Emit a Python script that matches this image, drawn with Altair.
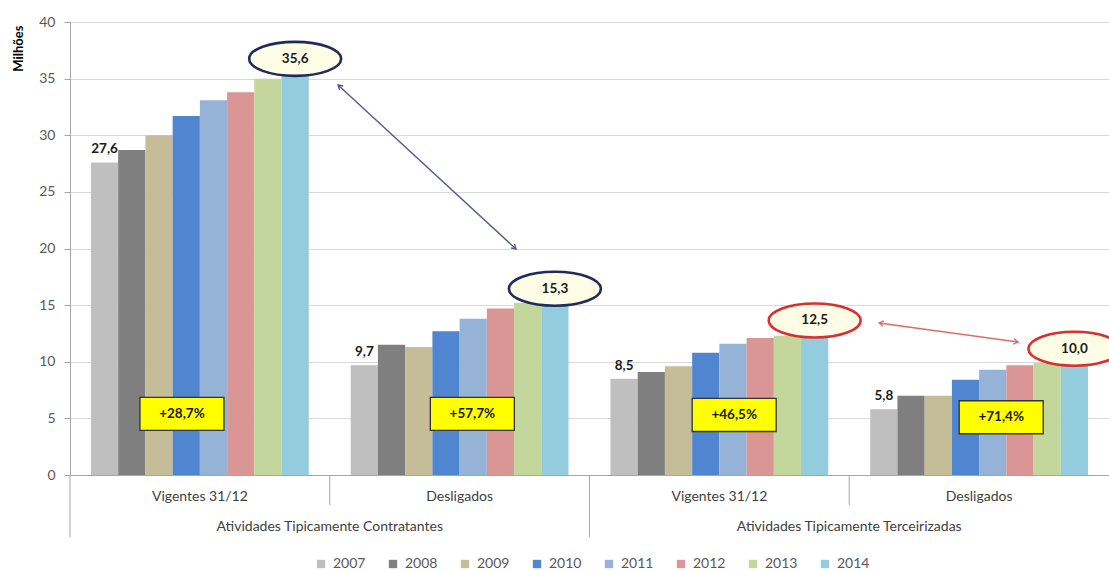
import math
import altair as alt
import pandas as pd

# ---- data -------------------------------------------------------------
anos = ["2007", "2008", "2009", "2010", "2011", "2012", "2013", "2014"]
cores = ["#BFBFBF", "#7F7F7F", "#C4BD97", "#4F86CF",
         "#95B3D7", "#DA9694", "#C3D69B", "#93CDDD"]

# "super|inner" keys keep the repeated inner names unique
grupos = ["C|Vigentes 31/12", "C|Desligados", "T|Vigentes 31/12", "T|Desligados"]
supergrupos = ["Atividades Tipicamente Contratantes",
               "Atividades Tipicamente Terceirizadas"]

vig_contratantes = [27.6, 28.7, 30.0, 31.7, 33.1, 33.8, 35.0, 35.6]
desl_contratantes = [9.7, 11.5, 11.3, 12.7, 13.8, 14.7, 15.2, 15.3]
vig_terceirizadas = [8.5, 9.1, 9.6, 10.8, 11.6, 12.1, 12.3, 12.5]
desl_terceirizadas = [5.8, 7.0, 7.0, 8.4, 9.3, 9.7, 9.9, 10.0]

variacao = [28.7, 57.7, 46.5, 71.4]          # % change 2007 -> 2014

# annotation anchors (x in group units 0..4, y in millions)
caixa_x = [0.431, 1.549, 2.557, 3.585]
caixa_y = [5.4, 5.4, 5.3, 5.1]
seta_azul = (1.032, 34.44, 1.717, 19.96)
seta_vermelha = (3.115, 13.42, 3.650, 11.74)

# ---- layout -----------------------------------------------------------
W, H = 1039, 453
Y_MAX = 40
FONT = "Lato"

series = [vig_contratantes, desl_contratantes, vig_terceirizadas, desl_terceirizadas]
supers = [supergrupos[0], supergrupos[0], supergrupos[1], supergrupos[1]]
rows = []
for g, s, vals in zip(grupos, supers, series):
    for a, v in zip(anos, vals):
        rows.append({"grupo": g, "super": s, "ano": a, "valor": v})
df = pd.DataFrame(rows)

x_scale = alt.Scale(domain=grupos, paddingInner=0, paddingOuter=0)
x_axis = alt.Axis(title=None, labelExpr="split(datum.label, '|')[1]", labelAngle=0,
                  ticks=False, tickSize=0, labelPadding=14, labelFont=FONT,
                  labelFontSize=14, labelColor="#404040", domainColor="#A6A6A6",
                  grid=False)


def xg(**kw):
    return alt.X("grupo:N", scale=x_scale, axis=x_axis, **kw)


xo = alt.XOffset("ano:N", scale=alt.Scale(domain=anos, paddingInner=0, paddingOuter=0.77))

y_scale = alt.Scale(domain=[0, Y_MAX], nice=False)
y_axis = alt.Axis(values=list(range(0, 41, 5)), title="Milhões", titleAngle=-90,
                  titleX=-52, titleY=3, titleAlign="right", titleBaseline="middle",
                  titleFont=FONT, titleFontSize=13, titleFontWeight="bold",
                  titleColor="#000000", labelFont=FONT, labelFontSize=14,
                  labelColor="#595959", labelPadding=9, tickSize=6,
                  tickColor="#A6A6A6", domainColor="#A6A6A6", gridColor="#D9D9D9")


def yq(field):
    return alt.Y(f"{field}:Q", scale=y_scale, axis=y_axis)


base = alt.Chart(df)

bars = base.mark_bar().encode(
    x=xg(),
    xOffset=xo,
    y=yq("valor"),
    color=alt.Color("ano:N", scale=alt.Scale(domain=anos, range=cores),
                    legend=alt.Legend(orient="none", legendX=244, legendY=535,
                                      direction="horizontal", title=None,
                                      symbolType="square", symbolSize=70,
                                      symbolStrokeWidth=0, labelFont=FONT,
                                      labelFontSize=14, labelColor="#595959",
                                      columnPadding=20, labelOffset=5)),
)

# ellipse outline around the 2014 value
def elipse(cy, ry, k=0.5523):
    f = lambda v: f"{v:.3f}"
    return (f"M1,{f(cy)} C1,{f(cy + k * ry)} {f(k)},{f(cy + ry)} 0,{f(cy + ry)} "
            f"C{f(-k)},{f(cy + ry)} -1,{f(cy + k * ry)} -1,{f(cy)} "
            f"C-1,{f(cy - k * ry)} {f(-k)},{f(cy - ry)} 0,{f(cy - ry)} "
            f"C{f(k)},{f(cy - ry)} 1,{f(cy - k * ry)} 1,{f(cy)} Z")


ellipses = base.transform_filter("datum.ano == '2014'").mark_point(
    shape=elipse(-13 / 46, 17 / 46), size=92 * 92, filled=True,
    fill="#FFFDE6", strokeWidth=2.6, opacity=1,
).encode(
    x=xg(), xOffset=xo, y=yq("valor"),
    stroke=alt.Stroke("super:N", scale=alt.Scale(domain=supergrupos,
                                                 range=["#1F2B5B", "#D9302F"]),
                      legend=None),
)

value_labels = base.transform_filter(
    "datum.ano == '2007' || datum.ano == '2014'"
).transform_calculate(
    rotulo="replace(format(datum.valor, '.1f'), '.', ',')"
).mark_text(dy=-13, baseline="middle", font=FONT, fontSize=13.5,
            fontWeight="bold", color="#1A1A1A").encode(
    x=xg(), xOffset=xo, y=yq("valor"), text="rotulo:N",
)

# category separators under the x axis
sep_df = pd.DataFrame({"grupo": grupos, "longo": [True, False, True, False]})
sep_short = alt.Chart(sep_df).transform_filter("!datum.longo").mark_rule(
    color="#A6A6A6", strokeWidth=1).encode(
    x=xg(bandPosition=0), y=alt.value(H), y2=alt.value(H + 30))
sep_long = alt.Chart(sep_df).transform_filter("datum.longo").mark_rule(
    color="#A6A6A6", strokeWidth=1).encode(
    x=xg(bandPosition=0), y=alt.value(H), y2=alt.value(H + 62))

# outer category labels, centred on the boundary between each pair
sup_df = pd.DataFrame({"grupo": [grupos[0], grupos[2]], "nome": supergrupos})
sup_labels = alt.Chart(sup_df).mark_text(
    font=FONT, fontSize=14, color="#404040", baseline="middle").encode(
    x=xg(bandPosition=1), y=alt.value(H + 52), text="nome:N")

main = alt.layer(bars, sep_short, sep_long, sup_labels, ellipses, value_labels)

# ---- annotations on a continuous group-unit axis ----------------------
ax = alt.Scale(domain=[0, 4], nice=False, zero=False)

box_df = pd.DataFrame({"x": caixa_x, "y": caixa_y, "variacao": variacao})
boxes = alt.Chart(box_df).mark_point(
    shape="M-1,-0.393L1,-0.393L1,0.393L-1,0.393Z", size=84 * 84, filled=True,
    fill="#FFFF00", stroke="#333333", strokeWidth=1.3, opacity=1,
).encode(x=alt.X("x:Q", scale=ax, axis=None), y=yq("y"))
box_text = alt.Chart(box_df).transform_calculate(
    rotulo="'+' + replace(format(datum.variacao, '.1f'), '.', ',') + '%'"
).mark_text(font=FONT, fontSize=13.5, fontWeight="bold", color="#1A1A1A",
            baseline="middle").encode(
    x=alt.X("x:Q", scale=ax, axis=None), y=yq("y"), text="rotulo:N")

px_x = W / 4
px_y = H / Y_MAX


def seta(coords, cor):
    x0, y0, x1, y1 = coords
    ang = math.degrees(math.atan2(-(y1 - y0) * px_y, (x1 - x0) * px_x)) % 360
    linha = alt.Chart(pd.DataFrame({"x0": [x0], "y0": [y0], "x1": [x1], "y1": [y1]})).mark_rule(
        color=cor, strokeWidth=1.4).encode(
        x=alt.X("x0:Q", scale=ax, axis=None), x2="x1:Q", y=yq("y0"), y2="y1:Q")
    pontas = alt.Chart(pd.DataFrame({"x": [x1, x0], "y": [y1, y0],
                                     "ang": [ang, (ang + 180) % 360]})).mark_point(
        shape="M-1,-0.6L0,0L-1,0.6", size=81, filled=False, stroke=cor,
        strokeWidth=1.4, opacity=1).encode(
        x=alt.X("x:Q", scale=ax, axis=None), y=yq("y"),
        angle=alt.Angle("ang:Q", scale=None))
    return [linha, pontas]


annot = alt.layer(*seta(seta_azul, "#4F5B8C"), *seta(seta_vermelha, "#E06A6A"),
                  boxes, box_text)

chart = alt.layer(main, annot).resolve_scale(x="independent").properties(
    width=W, height=H,
    autosize=alt.AutoSizeParams(type="none"),
    padding={"left": 70, "top": 22, "right": 0, "bottom": 96},
).configure_view(stroke=None).configure(background="#FFFFFF")

chart.save("out.html", embed_options={"renderer": "svg", "actions": False})
